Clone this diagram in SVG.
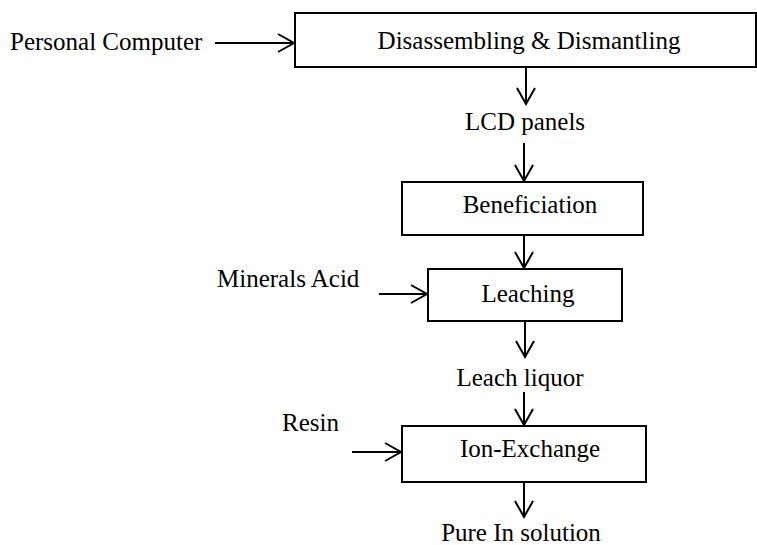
<svg xmlns="http://www.w3.org/2000/svg" width="757" height="545" viewBox="0 0 757 545">
  <style>
    .box { fill: #ffffff; stroke: #000000; stroke-width: 2; }
    .lbl { font-family: "Liberation Serif", "Times New Roman", serif; font-size: 25px; fill: #000000; }
    .mid { text-anchor: middle; }
    .flow { stroke: #000000; stroke-width: 2; fill: none; marker-end: url(#head); }
  </style>
  <defs>
    <marker id="head" markerUnits="userSpaceOnUse" markerWidth="20" markerHeight="22" viewBox="-18 -11 20 22" refX="0" refY="0" orient="auto" overflow="visible">
      <path d="M-16,-9 L0,0 L-16,9" fill="none" stroke="#000000" stroke-width="2" stroke-linejoin="miter"/>
    </marker>
  </defs>

  <!-- process steps -->
  <g id="disassembling">
    <rect class="box" x="295" y="13" width="461" height="54"/>
    <text class="lbl mid" x="529" y="49">Disassembling &amp; Dismantling</text>
  </g>
  <g id="beneficiation">
    <rect class="box" x="402" y="182" width="241" height="53"/>
    <text class="lbl mid" x="530" y="213">Beneficiation</text>
  </g>
  <g id="leaching">
    <rect class="box" x="428" y="269" width="194" height="52"/>
    <text class="lbl mid" x="528" y="302">Leaching</text>
  </g>
  <g id="ion-exchange">
    <rect class="box" x="402" y="426" width="244" height="56"/>
    <text class="lbl mid" x="530" y="457">Ion-Exchange</text>
  </g>

  <!-- inputs, intermediates and product -->
  <g id="personal-computer">
    <text class="lbl" x="10" y="50">Personal Computer</text>
  </g>
  <g id="lcd-panels">
    <text class="lbl mid" x="525" y="130">LCD panels</text>
  </g>
  <g id="minerals-acid">
    <text class="lbl" x="217" y="287">Minerals Acid</text>
  </g>
  <g id="leach-liquor">
    <text class="lbl mid" x="520" y="386">Leach liquor</text>
  </g>
  <g id="resin">
    <text class="lbl" x="282" y="431">Resin</text>
  </g>
  <g id="pure-in-solution">
    <text class="lbl mid" x="521" y="541">Pure In solution</text>
  </g>

  <!-- connectors -->
  <g id="connectors">
    <line class="flow" x1="215" y1="43" x2="294" y2="43"/>
    <line class="flow" x1="526" y1="67" x2="526" y2="104"/>
    <line class="flow" x1="524" y1="143" x2="524" y2="181"/>
    <line class="flow" x1="524" y1="235" x2="524" y2="268"/>
    <line class="flow" x1="379" y1="294" x2="427" y2="294"/>
    <line class="flow" x1="525" y1="321" x2="525" y2="357"/>
    <line class="flow" x1="524" y1="392" x2="524" y2="425"/>
    <line class="flow" x1="352" y1="452" x2="401" y2="452"/>
    <line class="flow" x1="524" y1="482" x2="524" y2="517"/>
  </g>
</svg>
